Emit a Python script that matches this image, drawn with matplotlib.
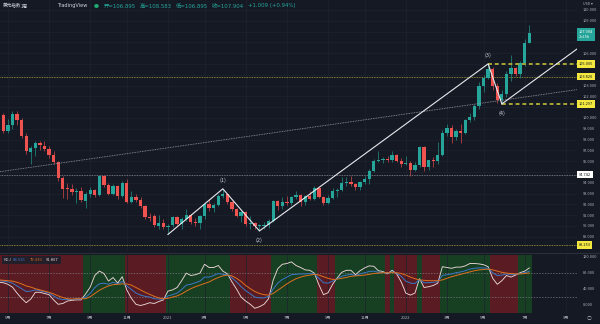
import matplotlib.pyplot as plt
from matplotlib import transforms
import numpy as np

plt.rcParams['font.family'] = ['Noto Sans CJK SC', 'DejaVu Sans']

# US dollar index, weekly bars from the week of 2020-04-20 to 2022-07-11
opens = [99.7, 100.3, 98.8, 99.3, 100.4, 99.8, 98.3, 96.8, 97.2, 97.7,
         97.4, 97.1, 96.6, 95.9, 94.4, 93.5, 93.4, 93.1, 93.2, 92.3,
         93.0, 93.3, 92.9, 94.6, 93.8, 93.0, 93.7, 92.8, 94.0, 92.2,
         92.7, 92.4, 91.8, 90.8, 90.9, 90.0, 90.3, 89.9, 90.1, 90.8,
         90.2, 90.6, 91.0, 90.4, 90.3, 90.9, 92.0, 91.7, 91.9, 92.8,
         93.0, 92.2, 91.6, 90.9, 91.3, 90.2, 90.3, 90.0, 90.0, 90.1,
         90.5, 92.3, 91.8, 92.2, 92.1, 92.7, 92.9, 92.2, 92.8, 92.5,
         93.5, 92.7, 92.1, 92.6, 93.2, 93.3, 94.0, 94.1, 93.9, 93.6,
         94.1, 94.3, 95.1, 96.0, 96.1, 96.2, 96.1, 96.6, 96.0, 95.7,
         95.8, 95.2, 95.6, 97.3, 95.5, 96.1, 96.0, 96.6, 98.6, 99.1,
         98.2, 98.8, 98.6, 99.8, 100.1, 101.1, 103.0, 103.7, 104.5, 103.0,
         101.7, 102.2, 104.1, 104.6, 104.1, 105.1, 106.895]
highs = [100.9, 100.5, 99.9, 100.6, 100.6, 100.0, 98.6, 97.4, 97.9, 97.9,
         97.9, 97.4, 96.9, 96.0, 94.6, 94.0, 93.9, 93.5, 93.6, 93.1,
         93.6, 93.4, 94.7, 94.7, 94.0, 93.9, 93.8, 94.2, 94.3, 93.2,
         93.0, 92.7, 91.9, 91.2, 91.1, 91.0, 90.6, 90.2, 90.9, 90.9,
         90.8, 91.6, 91.1, 90.7, 91.0, 92.2, 92.5, 92.1, 93.0, 93.44,
         93.0, 92.3, 91.7, 91.4, 91.4, 90.9, 90.4, 90.2, 90.4, 90.6,
         92.4, 92.4, 92.7, 92.8, 92.8, 93.2, 93.0, 92.9, 93.2, 93.7,
         93.5, 92.8, 92.9, 93.5, 93.5, 94.5, 94.5, 94.6, 94.0, 94.2,
         94.6, 95.3, 96.2, 96.9, 96.4, 96.5, 96.9, 96.7, 96.3, 96.5,
         96.0, 95.9, 97.4, 97.4, 96.1, 96.4, 97.8, 98.9, 99.4, 99.3,
         99.0, 99.4, 99.9, 100.5, 101.3, 103.3, 104.0, 105.005, 104.7, 103.2,
         102.6, 104.3, 105.8, 104.7, 105.3, 107.3, 108.583]
lows = [99.4, 98.6, 98.6, 99.0, 99.3, 98.1, 96.7, 95.7, 96.5, 97.0,
        96.9, 96.3, 95.7, 94.2, 92.6, 92.5, 92.9, 92.1, 92.2, 91.7,
        92.7, 92.7, 92.8, 93.6, 92.9, 92.9, 92.5, 92.7, 92.1, 92.1,
        92.2, 91.7, 90.6, 90.5, 89.9, 89.7, 89.7, 89.21, 89.9, 90.1,
        89.7, 90.5, 90.2, 90.0, 89.7, 90.6, 91.4, 91.3, 91.8, 92.6,
        92.0, 91.4, 90.8, 90.4, 90.0, 89.7, 89.7, 89.53, 89.7, 89.8,
        90.4, 91.5, 91.6, 91.9, 91.9, 92.5, 91.8, 91.9, 92.4, 92.4,
        92.6, 91.9, 92.0, 92.5, 92.7, 93.2, 93.7, 93.7, 93.3, 93.3,
        93.9, 93.9, 95.0, 95.9, 95.8, 95.9, 95.9, 95.9, 95.5, 95.6,
        94.6, 95.1, 95.5, 95.1, 95.2, 95.5, 95.7, 96.5, 98.3, 97.7,
        98.0, 97.7, 98.5, 99.6, 99.8, 100.8, 102.4, 103.6, 102.6, 101.4,
        101.297, 101.9, 103.4, 103.9, 103.7, 104.8, 106.895]
closes = [100.3, 98.8, 99.3, 100.4, 99.8, 98.3, 96.9, 97.2, 97.7, 97.5,
          97.1, 96.6, 95.9, 94.4, 93.4, 93.4, 93.1, 93.2, 92.4, 93.0,
          93.3, 92.9, 94.6, 93.8, 93.0, 93.7, 92.8, 94.0, 92.2, 92.7,
          92.4, 91.8, 90.8, 90.7, 90.1, 90.3, 89.9, 90.0, 90.8, 90.2,
          90.6, 91.0, 90.4, 90.3, 90.9, 92.0, 91.7, 91.9, 92.8, 93.0,
          92.2, 91.6, 90.9, 91.3, 90.2, 90.3, 90.0, 90.05, 90.1, 90.5,
          92.3, 91.8, 92.2, 92.1, 92.7, 92.9, 92.2, 92.8, 92.5, 93.5,
          92.7, 92.1, 92.6, 93.2, 93.3, 94.0, 94.1, 93.9, 93.6, 94.1,
          94.3, 95.1, 96.0, 96.1, 96.2, 96.1, 96.6, 96.0, 95.7, 95.8,
          95.2, 95.6, 97.3, 95.5, 96.1, 96.0, 96.6, 98.6, 99.1, 98.2,
          98.8, 98.6, 99.8, 100.1, 101.1, 103.0, 103.7, 104.5, 103.0, 101.7,
          102.2, 104.1, 104.6, 104.1, 105.1, 106.895, 107.904]

# KDJ(9,3,3)
k_vals = [60, 59, 57, 54, 47, 40, 33, 34, 37, 35, 32, 29, 22, 15, 13, 13, 13, 14, 14,
          19, 28, 43, 52, 54, 51, 56, 52, 58,
          47, 38, 29, 24, 21, 19, 15, 14, 14,
          22, 25, 29, 38, 49, 51, 55, 59, 69, 69, 73, 78, 76, 75,
          67, 57, 45, 35, 27, 19, 17, 17, 21,
          39, 54, 63, 69, 75, 76, 77, 77, 78, 77,
          66, 55, 54, 59,
          65, 71, 74, 76, 73, 77, 80, 83, 84, 81, 81,
          79, 82, 79, 71, 59, 54, 53, 63, 55, 55, 56, 58,
          73, 75, 77, 80, 82, 85, 89, 91, 92, 92, 91,
          80, 73, 74, 77, 75, 76, 78, 80, 83.515]
d_vals = [62, 61, 60, 59, 56, 52, 47, 44, 40, 37, 34, 31, 27, 22, 18, 15, 14, 15, 15,
          15, 20, 28, 36, 42, 47, 50, 51, 52,
          52, 49, 43, 37, 31, 26, 21, 17, 15,
          16, 19, 22, 27, 34, 40, 45, 49, 53, 57, 63, 68, 72, 74,
          72, 66, 58, 48, 40, 33, 28, 25, 24,
          28, 36, 44, 52, 59, 65, 69, 72, 74, 76,
          74, 70, 66, 63,
          64, 66, 68, 71, 72, 73, 74, 76, 78, 79, 80,
          80, 80, 80, 78, 74, 69, 65, 62, 61, 60, 60, 60,
          62, 66, 70, 73, 76, 79, 82, 85, 87, 88, 89,
          87, 84, 81, 79, 78, 77, 77, 78, 79.339]
j_vals = [56, 55, 51, 44, 29, 16, 5, 14, 31, 31, 28, 25, 12, 1, 3, 9, 11, 12, 12,
          27, 44, 73, 84, 78, 59, 68, 54, 70,
          37, 16, 1, -2, 1, 5, 3, 8, 12,
          34, 37, 43, 60, 79, 73, 75, 79, 101, 93, 93, 98, 84, 77,
          57, 39, 19, 9, 1, -9, -5, 1, 15,
          61, 90, 101, 103, 107, 98, 93, 87, 86, 79,
          50, 25, 30, 51,
          67, 81, 86, 86, 75, 85, 92, 97, 96, 85, 83,
          77, 86, 77, 57, 29, 24, 29, 65, 43, 45, 48, 54,
          95, 93, 91, 94, 94, 97, 103, 103, 102, 100, 95,
          66, 51, 60, 73, 69, 74, 80, 84, 91.867]

month_ticks = [2, 11, 20, 28, 37, 45, 54, 63, 72, 80, 89, 98, 106, 115, 124]
month_labels = ['5月', '7月', '9月', '11月', '2021', '3月', '5月', '7月',
                '9月', '11月', '2022', '3月', '5月', '7月', '9月']

# wave count drawn on the chart: start, (1), (2), (3), (4)
wave_idx = [37, 49, 57, 107, 110]
wave_price = [89.206, 93.437, 89.533, 105.005, 101.297]
wave_names = ['', '(1)', '(2)', '(3)', '(4)']

# long dotted trend line
trend_idx = [0.28, 126.4]
trend_price = [95.02, 102.62]

# marked price levels and their scale labels
level_prices = [105.005, 103.820, 101.297, 94.742, 88.253]
price_ticks = np.arange(89, 111)

BG = '#151924'
GRID = '#1e2230'
UP = '#26a69a'
DOWN = '#ef5350'
TXT = '#b2b5be'
LEVEL = '#a8a436'
YELLOW = '#f3e83f'
LATIN_FIRST = ['DejaVu Sans', 'Noto Sans CJK SC']

n = len(closes)
x = np.arange(n)
o = np.array(opens)
h = np.array(highs)
l = np.array(lows)
c = np.array(closes)
up = c >= o

fig = plt.figure(figsize=(6, 3.24), dpi=100, facecolor=BG)

def figpos(px, py):
    return px / 600, 1 - py / 324

ax = fig.add_axes([0, 1 - 251 / 324, 577 / 600, 251 / 324], facecolor=BG)
axk = fig.add_axes([0, 1 - 313 / 324, 577 / 600, 58 / 324], facecolor=BG)

xmin, xmax = 0.28, 126.43
for a in (ax, axk):
    a.set_xlim(xmin, xmax)
    for s in a.spines.values():
        s.set_visible(False)
    a.set_xticks(month_ticks)
    a.grid(True, color=GRID, lw=0.5)
    a.set_axisbelow(True)
    a.yaxis.tick_right()
    a.tick_params(length=0, labelsize=2.8, labelcolor=TXT, pad=4)

# candles
wick_up = '#1f7d74'
wick_dn = '#b54042'
ax.vlines(x, l, h, colors=np.where(up, wick_up, wick_dn), lw=0.6, zorder=2)
body = np.maximum(np.abs(c - o), 0.04)
ax.bar(x, body, bottom=np.minimum(o, c), width=0.72,
       color=np.where(up, UP, DOWN), lw=0, zorder=3)

ax.set_ylim(87.676, 110.917)
ax.set_yticks(price_ticks)
# scale labels that sit under a level label are not shown
last_box = (106.85, 108.2)
tick_txt = []
for v in price_ticks:
    hidden = any(abs(v - p) < 0.45 for p in level_prices) or last_box[0] < v < last_box[1]
    tick_txt.append('' if hidden else '%.3f' % v)
ax.set_yticklabels(tick_txt)
ax.set_xticklabels([])

# horizontal levels
ax.axhline(103.820, color=LEVEL, lw=0.6, ls=(0, (1, 1)), zorder=1)
ax.axhline(88.253, color=LEVEL, lw=0.6, ls=(0, (1, 1)), zorder=1)
ax.axhline(94.742, color='#8c8f98', lw=0.6, ls=(0, (1, 1)), zorder=1)
ax.hlines(105.005, 107, xmax, color=LEVEL, lw=1.4, ls=(0, (2, 1.5)), zorder=4)
ax.hlines(101.297, 110, xmax, color=LEVEL, lw=1.4, ls=(0, (2, 1.5)), zorder=4)

# trend line and wave count
ax.plot(trend_idx, trend_price, color='#9a9da6', lw=0.6, ls=(0, (1, 1)), zorder=4)
ax.plot(wave_idx, wave_price, color='#e8e9ee', lw=0.8, zorder=5)
slope = (wave_price[3] - wave_price[2]) / (wave_idx[3] - wave_idx[2])
ax.plot([wave_idx[4], xmax], [wave_price[4], wave_price[4] + slope * (xmax - wave_idx[4])],
        color='#e8e9ee', lw=0.8, zorder=5)
for i, (wi, wp, name) in enumerate(zip(wave_idx, wave_price, wave_names)):
    if not name:
        continue
    dy = 6.3 if i in (1, 3) else -6.8
    ax.annotate(name, (wi, wp), xytext=(0, dy), textcoords='offset points',
                ha='center', va='center', fontsize=4.0, color='#d1d4dc', zorder=6)

# price labels on the right scale
tr = transforms.blended_transform_factory(ax.transAxes, ax.transData)
for val in level_prices:
    fc = '#ffffff' if val == 94.742 else YELLOW
    ax.text(1.003, val, '%.3f' % val, transform=tr, ha='left', va='center',
            fontsize=2.8, color='#131722', clip_on=False, zorder=10,
            bbox=dict(boxstyle='square,pad=0.45', fc=fc, ec='none'))
ax.text(1.003, 108.12, '%.3f\n2d 5h' % closes[-1], transform=tr, ha='left', va='top',
        fontsize=2.8, color='white', linespacing=1.3, clip_on=False, zorder=10,
        bbox=dict(boxstyle='square,pad=0.45', fc=UP, ec='none'))

# KDJ panel
bull = np.array(k_vals) > np.array(d_vals)
start = 0
for i in range(1, n + 1):
    if i == n or bull[i] != bull[start]:
        axk.axvspan(start - 0.5, i - 0.5, color='#173f22' if bull[start] else '#5a1b22',
                    lw=0, zorder=0)
        start = i
axk.plot(x, j_vals, color='#e8d6d6', lw=0.65, zorder=3)
axk.plot(x, k_vals, color='#3a78c9', lw=0.7, zorder=4)
axk.plot(x, d_vals, color='#e0711f', lw=0.7, zorder=4)
for lvl in (20, 80):
    axk.axhline(lvl, color='#787b86', lw=0.5, ls=(0, (2, 2)), zorder=2)
axk.set_ylim(-20.75, 124.25)
axk.set_yticks([0, 40, 80, 120])
axk.set_yticklabels(['0.000', '40.000', '80.000', '120.000'])
axk.grid(False, axis='y')
axk.set_xticklabels(month_labels)
axk.tick_params(axis='x', labelsize=3.0, pad=2.2)

legend_box = plt.Rectangle(figpos(1.5, 264), 59 / 600, 8 / 324, transform=fig.transFigure,
                           fc='#1b1f2b', ec='none', alpha=0.85, zorder=20)
fig.add_artist(legend_box)
for px_, txt, col in [(3.3, 'KDJ', TXT), (12.7, '%.3f' % k_vals[-1], '#3a78c9'),
                      (29.3, '%.3f' % d_vals[-1], '#e0711f'), (46, '%.3f' % j_vals[-1], '#e8d6d6')]:
    fig.text(*figpos(px_, 260), txt, fontsize=3.0, color=col, va='center', ha='left', zorder=21)

# separator between panels
fig.add_artist(plt.Line2D([0, 1], [1 - 253 / 324] * 2, color='#2a2e39', lw=0.8,
                          transform=fig.transFigure))

# header
fig.text(*figpos(2.7, 6), '美元指数', fontsize=3.3, color='#d1d4dc', va='center')
fig.text(*figpos(20.7, 6), '1周', fontsize=3.3, color='#d1d4dc', va='center')
fig.text(*figpos(57, 6), 'TradingView', fontsize=3.6, color='#d1d4dc', va='center',
         family=LATIN_FIRST)
fig.text(*figpos(96, 6), '●', fontsize=3.6, color='#1fae6f', va='center', ha='center')
change = closes[-1] - closes[-2]
header = [(104, '开=%.3f' % opens[-1]), (140, '高=%.3f' % highs[-1]),
          (176, '低=%.3f' % lows[-1]), (212, '收=%.3f' % closes[-1]),
          (248, '+%.3f (+%.2f%%)' % (change, change / closes[-2] * 100))]
for px_, txt in header:
    fig.text(*figpos(px_, 6), txt, fontsize=3.9, color='#26a69a', va='center',
             family=LATIN_FIRST)
fig.text(*figpos(583, 4.3), 'USD ▾', fontsize=2.6, color=TXT, va='center')
fig.text(*figpos(589, 318), '○', fontsize=3.5, color=TXT, va='center', ha='center')

fig.savefig('out.png', dpi=100, facecolor=BG)
